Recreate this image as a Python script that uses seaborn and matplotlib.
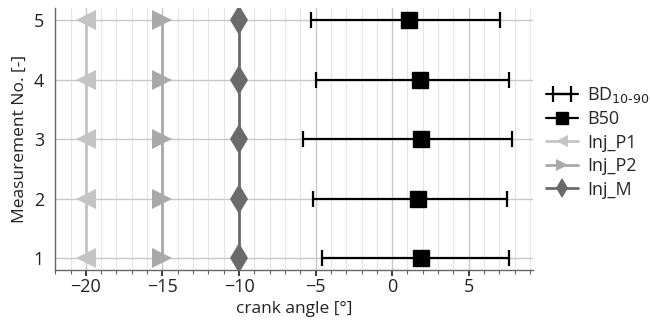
import numpy as np
import pandas as pd
import matplotlib
matplotlib.use("Agg")
import matplotlib.pyplot as plt
import seaborn as sns
from matplotlib.ticker import MultipleLocator
from matplotlib.lines import Line2D
from matplotlib.container import ErrorbarContainer
from matplotlib.collections import LineCollection

# data
meas = [1, 2, 3, 4, 5]
b50 = [1.9, 1.7, 1.9, 1.8, 1.1]
bd10 = [-4.6, -5.15, -5.85, -4.95, -5.3]
bd90 = [7.65, 7.5, 7.85, 7.65, 7.05]
inj_p1 = [-20, -20, -20, -20, -20]
inj_p2 = [-15, -15, -15, -15, -15]
inj_m = [-10, -10, -10, -10, -10]

sns.set_theme(style="whitegrid")
plt.rcParams['font.family'] = ['Open Sans', 'DejaVu Sans']

fig = plt.figure(figsize=(6.5, 3.25), dpi=100)
ax = fig.add_axes([0.085, 0.169, 0.735, 0.806])

c_p1, c_p2, c_m = '#c4c4c4', '#a9a9a9', '#6a6a6a'

df = pd.DataFrame({'meas': meas, 'p1': inj_p1, 'p2': inj_p2, 'm': inj_m})
sns.lineplot(data=df, x='p1', y='meas', orient='y', sort=False, ax=ax, color=c_p1,
             marker='<', markersize=14, markeredgewidth=0, linewidth=2, zorder=3)
sns.lineplot(data=df, x='p2', y='meas', orient='y', sort=False, ax=ax, color=c_p2,
             marker='>', markersize=14, markeredgewidth=0, linewidth=2, zorder=3)
sns.lineplot(data=df, x='m', y='meas', orient='y', sort=False, ax=ax, color=c_m,
             marker='d', markersize=15, markeredgewidth=0, linewidth=2, zorder=3)

b50a = np.array(b50); lo = b50a - np.array(bd10); hi = np.array(bd90) - b50a
ax.errorbar(b50, meas, xerr=[lo, hi], fmt='none', ecolor='black', elinewidth=1.6,
            capsize=6, capthick=1.6, zorder=4)
ax.plot(b50, meas, linestyle='none', marker='s', markersize=12, color='black', zorder=5)

ax.set_xlim(-22, 9.2)
ax.set_ylim(0.8, 5.2)
ax.set_yticks(meas)
ax.xaxis.set_major_locator(MultipleLocator(5))
ax.xaxis.set_minor_locator(MultipleLocator(1))
ax.grid(which='major', color='#c8c8c8', linewidth=1.0)
ax.grid(which='minor', axis='x', color='#e6e6e6', linewidth=0.8)
ax.set_facecolor('white')
for s in ['top', 'right']:
    ax.spines[s].set_visible(False)
for s in ['left', 'bottom']:
    ax.spines[s].set_visible(True)
    ax.spines[s].set_color('#666666')
    ax.spines[s].set_linewidth(1.0)
ax.tick_params(axis='x', which='minor', bottom=True, length=3, color='#666666', width=0.8)
ax.tick_params(axis='x', which='major', bottom=True, length=4, color='#666666')
ax.tick_params(axis='both', labelsize=13, pad=2, colors='#222222')
ax.set_xlabel('crank angle [°]', fontsize=12.5, color='#222222', labelpad=3)
ax.set_ylabel('Measurement No. [-]', fontsize=12.5, color='#222222', labelpad=4)

# legend handles
bd_line = Line2D([], [], color='black', linewidth=1.6)
bd_caps = Line2D([], [], color='black', linestyle='none', marker='|', markersize=12, markeredgewidth=1.6)
bd_bar = LineCollection([], colors='black', linewidths=1.6)
h_bd = ErrorbarContainer((bd_line, (bd_caps,), (bd_bar,)), has_xerr=True, has_yerr=False)
h_b50 = Line2D([], [], color='black', marker='s', markersize=9, linewidth=1.6)
h_p1 = Line2D([], [], color=c_p1, marker='<', markersize=9, markeredgewidth=0, linewidth=2)
h_p2 = Line2D([], [], color=c_p2, marker='>', markersize=9, markeredgewidth=0, linewidth=2)
h_m = Line2D([], [], color=c_m, marker='d', markersize=10, markeredgewidth=0, linewidth=2)
ax.legend([h_bd, h_b50, h_p1, h_p2, h_m],
          ['BD$_{10\\text{-}90}$', 'B50', 'Inj_P1', 'Inj_P2', 'Inj_M'],
          loc='center left', bbox_to_anchor=(1.028, 0.49), frameon=False, fontsize=13,
          handlelength=1.75, labelspacing=0.3, handletextpad=0.5, borderpad=0, borderaxespad=0)

fig.savefig('out.png', dpi=100)
